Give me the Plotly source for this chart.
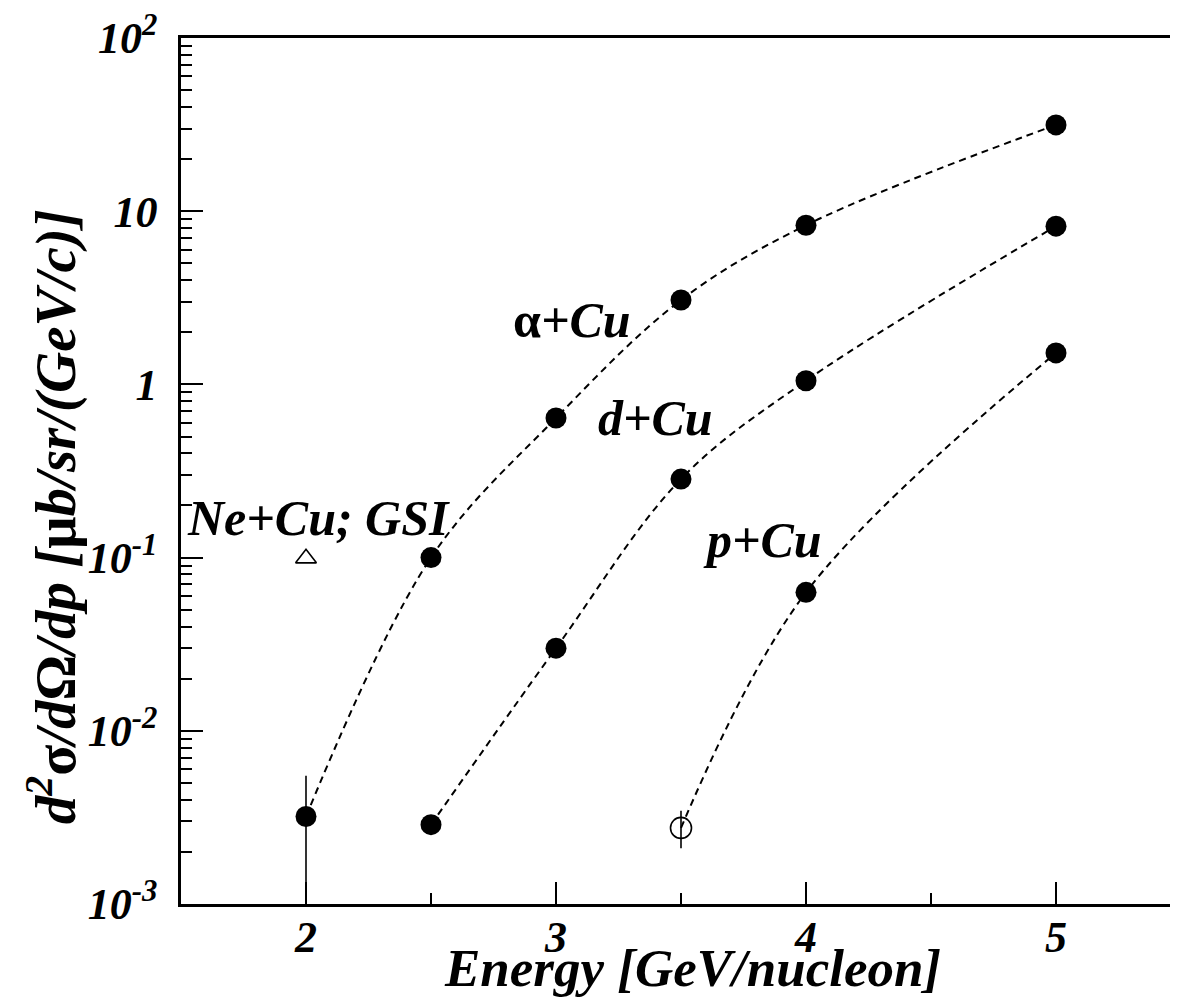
import plotly.graph_objects as go

# ---- data ----
energy_alpha = [2.0, 2.5, 3.0, 3.5, 4.0, 5.0]
xs_alpha = [0.0032, 0.100, 0.64, 3.07, 8.3, 31.5]
err_alpha_plus = [0.0023, 0, 0, 0, 0, 0]
err_alpha_minus = [0.0031, 0, 0, 0, 0, 0]

energy_d = [2.5, 3.0, 3.5, 4.0, 5.0]
xs_d = [0.00287, 0.030, 0.284, 1.05, 8.2]

energy_p = [3.5, 4.0, 5.0]
xs_p = [0.00275, 0.063, 1.52]
p_open_x = [3.5]
p_open_y = [0.00275]
p_err_plus = [0.0007]
p_err_minus = [0.00065]

energy_ne = [2.0]
xs_ne = [0.099]

ytick_vals = [1e-3, 1e-2, 1e-1, 1, 10, 100]
ytick_text = ["10<sup>-3</sup>", "10<sup>-2</sup>", "10<sup>-1</sup>", "1", "10", "10<sup>2</sup>"]
xtick_vals = [2, 3, 4, 5]
xtick_text = ["2", "3", "4", "5"]

FONT = "Liberation Serif"
LINE = dict(color="black", width=2, dash="7px,5px", shape="spline")
MARK = dict(color="black", size=21, symbol="circle")

fig = go.Figure()

fig.add_trace(go.Scatter(x=energy_alpha, y=xs_alpha, mode="lines+markers",
                         line=LINE, marker=MARK, showlegend=False,
                         error_y=dict(type="data", array=err_alpha_plus,
                                      arrayminus=err_alpha_minus, symmetric=False,
                                      color="black", thickness=1.6, width=0)))
fig.add_trace(go.Scatter(x=energy_d, y=xs_d, mode="lines+markers",
                         line=LINE, marker=MARK, showlegend=False))
fig.add_trace(go.Scatter(x=energy_p, y=xs_p, mode="lines",
                         line=LINE, showlegend=False))
fig.add_trace(go.Scatter(x=energy_p[1:], y=xs_p[1:], mode="markers",
                         marker=MARK, showlegend=False))
fig.add_trace(go.Scatter(x=p_open_x, y=p_open_y, mode="markers",
                         marker=dict(symbol="circle-open", size=21, color="black",
                                     line=dict(width=1.6)),
                         error_y=dict(type="data", array=p_err_plus, arrayminus=p_err_minus,
                                      symmetric=False, color="black", thickness=1.6, width=0),
                         showlegend=False))
fig.add_trace(go.Scatter(x=energy_ne, y=xs_ne, mode="markers",
                         marker=dict(symbol="triangle-up-open", size=18, color="black",
                                     line=dict(width=1.6)),
                         showlegend=False))

tickfont = dict(family=FONT, size=44, color="black", weight="bold", style="italic")

fig.update_xaxes(range=[1.5, 5.456], showgrid=False, zeroline=False,
                 showline=True, linecolor="black", linewidth=2.5, mirror=True,
                 ticks="inside", ticklen=22, tickwidth=2, tickcolor="black",
                 tickmode="array", tickvals=xtick_vals, ticktext=xtick_text,
                 tickfont=tickfont, ticklabelstandoff=-8, ticklabeloverflow="allow",
                 minor=dict(ticks="inside", ticklen=11, tickwidth=2, tickcolor="black",
                            tickvals=[2.5, 3.5, 4.5], showgrid=False))
fig.update_yaxes(type="log", range=[-3, 2], showgrid=False, zeroline=False,
                 showline=True, linecolor="black", linewidth=2.5, mirror=False,
                 ticks="inside", ticklen=22, tickwidth=2, tickcolor="black",
                 tickmode="array", tickvals=ytick_vals, ticktext=ytick_text,
                 tickfont=tickfont, ticklabelstandoff=12, ticklabeloverflow="allow",
                 minor=dict(ticks="inside", ticklen=11, tickwidth=2, tickcolor="black",
                            dtick="D1", showgrid=False))

afont = dict(family=FONT, size=50, color="black", weight="bold", style="italic")
labels = [
    ("<span style='font-style:normal'>α</span>+Cu", 3.064, 0.372),
    ("d+Cu", 3.396, -0.194),
    ("p+Cu", 3.824, -0.898),
    ("Ne+Cu; GSI", 2.048, -0.771),
]
for txt, ax, ay in labels:
    fig.add_annotation(x=ax, y=ay, xref="x", yref="y", text=txt, showarrow=False,
                       font=afont, xanchor="center", yanchor="middle")

fig.add_annotation(xref="paper", yref="paper", x=0.5167, y=-0.074,
                   text="Energy [GeV/nucleon]", showarrow=False,
                   font=dict(family=FONT, size=53, color="black", weight="bold", style="italic"),
                   xanchor="center", yanchor="middle")
fig.add_annotation(xref="paper", yref="paper", x=-0.130, y=0.447, textangle=-90,
                   text="d<sup>2</sup><span style='font-style:normal'>σ</span>/d<span style='font-style:normal'>Ω</span>/dp "
                        "[<span style='font-style:normal'>μ</span>b/sr/(GeV/c)]",
                   showarrow=False,
                   font=dict(family=FONT, size=57, color="black", weight="bold", style="italic"),
                   xanchor="center", yanchor="middle")

fig.update_layout(width=1162, height=991, margin=dict(l=173, r=0, t=30, b=95),
                  paper_bgcolor="white", plot_bgcolor="white")

fig.write_html("out.html")
